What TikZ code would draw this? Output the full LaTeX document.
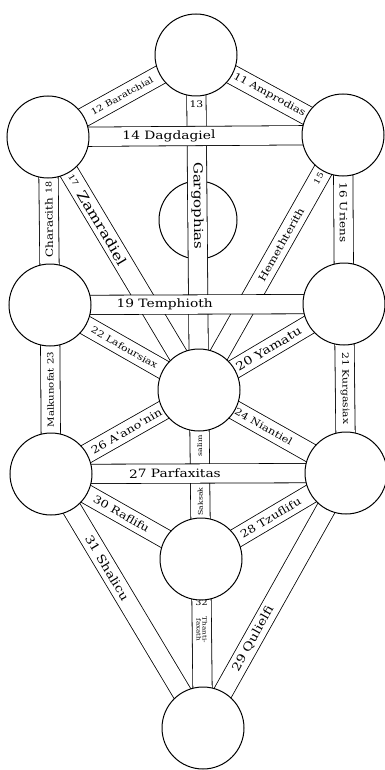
\documentclass[tikz,border=0pt]{standalone}
\usepackage{fontspec}
\newfontfamily\hand[FakeStretch=1.2]{DejaVu Serif}
\usetikzlibrary{calc,backgrounds}
\tikzset{
  sph/.style={circle,draw,line width=1pt,fill=white,minimum size=#1,inner sep=0pt},
  sph/.default=82pt,
  pth/.style={draw,line width=0.8pt,double=white,double distance=18.5pt},
  num/.style={font=\hand\fontsize{#1}{#1}\selectfont,inner sep=0pt},
  num/.default=9,
  lbl/.style={num=#1,sloped,allow upside down},
  lbl/.default=11
}
\begin{document}
\begin{tikzpicture}[x=1pt,y=-1pt]
\useasboundingbox (0,0) rectangle (385,770);
\node[sph] (kether) at (196,55) {};
\node[sph] (binah) at (48,137) {};
\node[sph] (chokmah) at (343,135) {};
\node[sph] (geburah) at (50,305) {};
\node[sph] (chesed) at (344,304) {};
\node[sph] (tiphareth) at (199,390) {};
\node[sph] (hod) at (51,474) {};
\node[sph] (netzach) at (346,473) {};
\node[sph] (yesod) at (201,559) {};
\node[sph] (malkuth) at (203,728) {};
\begin{scope}[on background layer]
\node[sph=78pt] (daath) at (198,220) {};
\draw[pth] (kether.center) -- node[num=9,pos=.147]{13} node[lbl=12.5,pos=.45]{Gargophias} (tiphareth.center);
\draw[pth] (binah.center) -- node[lbl=8,pos=.17]{17} node[lbl=13.5,pos=.36]{Zamradiel} (tiphareth.center);
\draw[pth] (tiphareth.center) -- node[lbl=10,pos=.57]{Hemethterith} node[lbl=8,pos=.83]{15} (chokmah.center);
\draw[pth] (binah.center) -- node[lbl=8.5,pos=.5]{12 Baratchial} (kether.center);
\draw[pth] (kether.center) -- node[lbl=9.5,pos=.5]{11 Amprodias} (chokmah.center);
\draw[pth] (geburah.center) -- node[lbl=10,pos=.46]{Characith} node[lbl=8,pos=.7]{18} (binah.center);
\draw[pth] (chokmah.center) -- node[lbl=10,pos=.46]{16 Uriens} (chesed.center);
\draw[pth] (binah.center) -- node[lbl=11.5,pos=.41]{14 Dagdagiel} (chokmah.center);
\draw[pth] (geburah.center) -- node[lbl=9,pos=.5]{22 Lafoursiax} (tiphareth.center);
\draw[pth] (tiphareth.center) -- node[lbl=11.5,pos=.48]{20 Yamatu} (chesed.center);
\draw[pth] (hod.center) -- node[lbl=10.5,pos=.51]{26 A'ano'nin} (tiphareth.center);
\draw[pth] (tiphareth.center) -- node[lbl=9.5,pos=.44]{24 Niantiel} (netzach.center);
\draw[pth] (yesod.center) -- node[lbl=6.5,pos=.34]{Saksak} node[lbl=6.5,pos=.67]{salim} (tiphareth.center);
\draw[pth] (hod.center) -- node[lbl=8.5,pos=.5]{Malkunofat 23} (geburah.center);
\draw[pth] (chesed.center) -- node[lbl=9,pos=.5]{21 Kurgasiax} (netzach.center);
\draw[pth] (geburah.center) -- node[lbl=11.5,pos=.39]{19 Temphioth} (chesed.center);
\draw[pth] (hod.center) -- node[lbl=10.5,pos=.47]{30 Raflifu} (yesod.center);
\draw[pth] (yesod.center) -- node[lbl=10.5,pos=.48]{28 Tzuflifu} (netzach.center);
\draw[pth] (hod.center) -- node[lbl=11.5,pos=.37]{31 Shalicu} (malkuth.center);
\draw[pth] (malkuth.center) -- node[lbl=11.5,pos=.35]{29 Qulielfi} (netzach.center);
\draw[pth] (yesod.center) -- node[num=8,pos=.26]{32} node[lbl=6,pos=.42,align=center]{Thanti-\\faxath} (malkuth.center);
\draw[pth] (hod.center) -- node[lbl=11.5,pos=.42]{27 Parfaxitas} (netzach.center);
\end{scope}
\end{tikzpicture}
\end{document}
